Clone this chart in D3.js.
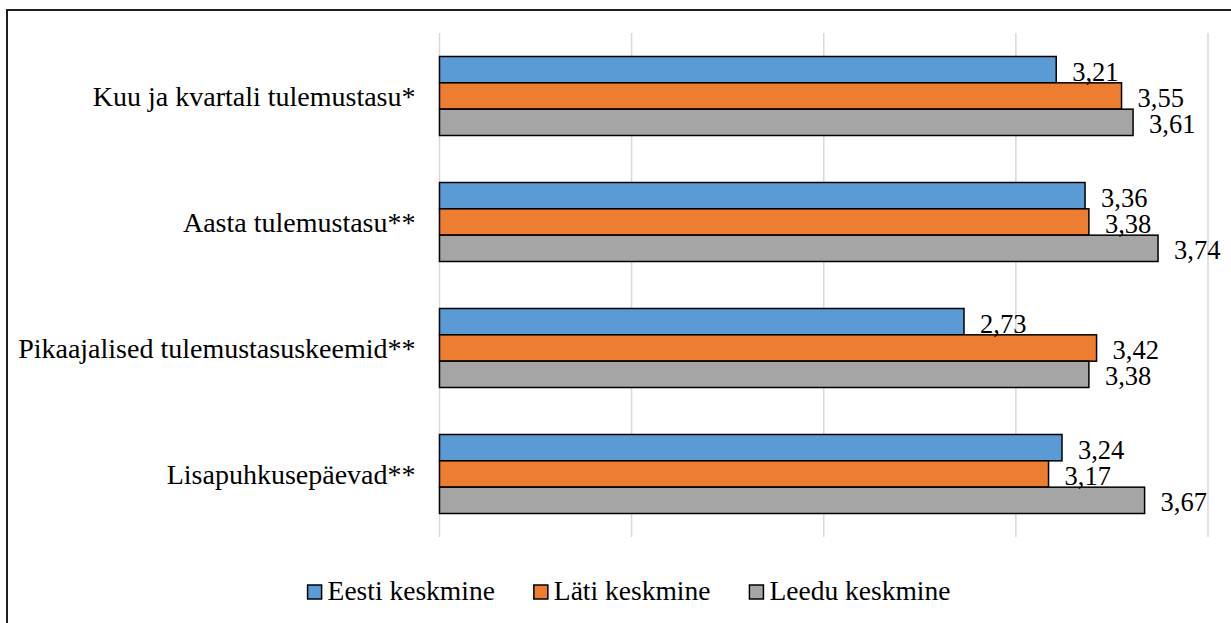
<!DOCTYPE html>
<html>
<head>
<meta charset="utf-8">
<script src="https://cdn.jsdelivr.net/npm/d3@7"></script>
<style>
    body { margin: 0; background: white; }
</style>
</head>
<body>
<svg id="chart" width="1231" height="623"></svg>
<script>
const categories = [
    "Kuu ja kvartali tulemustasu*",
    "Aasta tulemustasu**",
    "Pikaajalised tulemustasuskeemid**",
    "Lisapuhkusepäevad**"
];
const seriesNames = ["Eesti keskmine", "Läti keskmine", "Leedu keskmine"];
const eestiValues = [3.21, 3.36, 2.73, 3.24];
const latiValues = [3.55, 3.38, 3.42, 3.17];
const leeduValues = [3.61, 3.74, 3.38, 3.67];
const seriesColors = ["#5b9bd5", "#ed7d31", "#a5a5a5"];
const gridTicks = [0, 1, 2, 3, 4];

const FONT = "'Liberation Serif', 'Times New Roman', 'DejaVu Serif', serif";

let svg = d3.select("#chart")
    .style('font-family', FONT);

// outer chart frame, runs off the right/bottom edge like the original
svg.append('rect')
    .attr('x', 7)
    .attr('y', 10)
    .attr('width', 1300)
    .attr('height', 700)
    .attr('fill', 'white')
    .attr('stroke', 'black')
    .attr('stroke-width', 1.75);

let x = d3.scaleLinear()
    .domain([0, 4])
    .range([439.5, 1208]);

let y = d3.scaleBand()
    .domain(categories)
    .range([33, 537])
    .paddingInner(0.373)
    .paddingOuter(0.373 / 2);

let ySub = d3.scaleBand()
    .domain(seriesNames)
    .range([0, y.bandwidth()]);

let valuesBySeries = [eestiValues, latiValues, leeduValues];
let rows = [];
categories.forEach((c, i) => {
    seriesNames.forEach((s, j) => {
        rows.push({ category: c, series: s, value: valuesBySeries[j][i], color: seriesColors[j] });
    });
});

// gridlines (the 0 line doubles as the axis)
svg.append('g')
    .attr('id', 'grid-g')
    .selectAll('line')
    .data(gridTicks)
    .join('line')
    .attr('x1', d => x(d))
    .attr('x2', d => x(d))
    .attr('y1', 33)
    .attr('y2', 537)
    .attr('stroke', '#d9d9d9')
    .attr('stroke-width', 1.5);

let barGroup = svg.append('g').attr('id', 'bars-g');

barGroup.selectAll('rect')
    .data(rows)
    .join('rect')
    .attr('x', x(0))
    .attr('y', d => y(d.category) + ySub(d.series))
    .attr('width', d => x(d.value) - x(0))
    .attr('height', ySub.bandwidth())
    .attr('fill', d => d.color)
    .attr('stroke', 'black')
    .attr('stroke-width', 1.5);

barGroup.selectAll('text')
    .data(rows)
    .join('text')
    .attr('x', d => x(d.value) + 16)
    .attr('y', d => y(d.category) + ySub(d.series) + ySub.bandwidth() / 2)
    .attr('dy', '0.41em')
    .attr('font-family', FONT)
    .attr('font-size', 26.5)
    .attr('fill', 'black')
    .text(d => d3.format('.2f')(d.value).replace('.', ','));

// category labels
svg.append('g')
    .attr('id', 'labels-g')
    .selectAll('text')
    .data(categories)
    .join('text')
    .attr('x', x(0) - 24)
    .attr('y', d => y(d) + y.bandwidth() / 2)
    .attr('dy', '0.35em')
    .attr('text-anchor', 'end')
    .attr('font-family', FONT)
    .attr('font-size', 28)
    .attr('fill', 'black')
    .text(d => d);

// legend, centred on the measured text widths
let legend = svg.append('g').attr('id', 'legend-g');
let items = legend.selectAll('g')
    .data(seriesNames)
    .join('g');

items.append('rect')
    .attr('x', 0)
    .attr('y', -15)
    .attr('width', 14)
    .attr('height', 14)
    .attr('fill', (d, i) => seriesColors[i])
    .attr('stroke', 'black')
    .attr('stroke-width', 1.5);

items.append('text')
    .attr('x', 20)
    .attr('y', 0)
    .attr('font-family', FONT)
    .attr('font-size', 27.5)
    .attr('fill', 'black')
    .text(d => d);

let itemGap = 39;
let widths = [];
items.each(function () {
    widths.push(20 + this.querySelector('text').getComputedTextLength());
});
let total = d3.sum(widths) + itemGap * (widths.length - 1);
let cursor = 629 - total / 2;
items.each(function (d, i) {
    d3.select(this).attr('transform', `translate(${cursor},600)`);
    cursor += widths[i] + itemGap;
});
</script>
</body>
</html>
